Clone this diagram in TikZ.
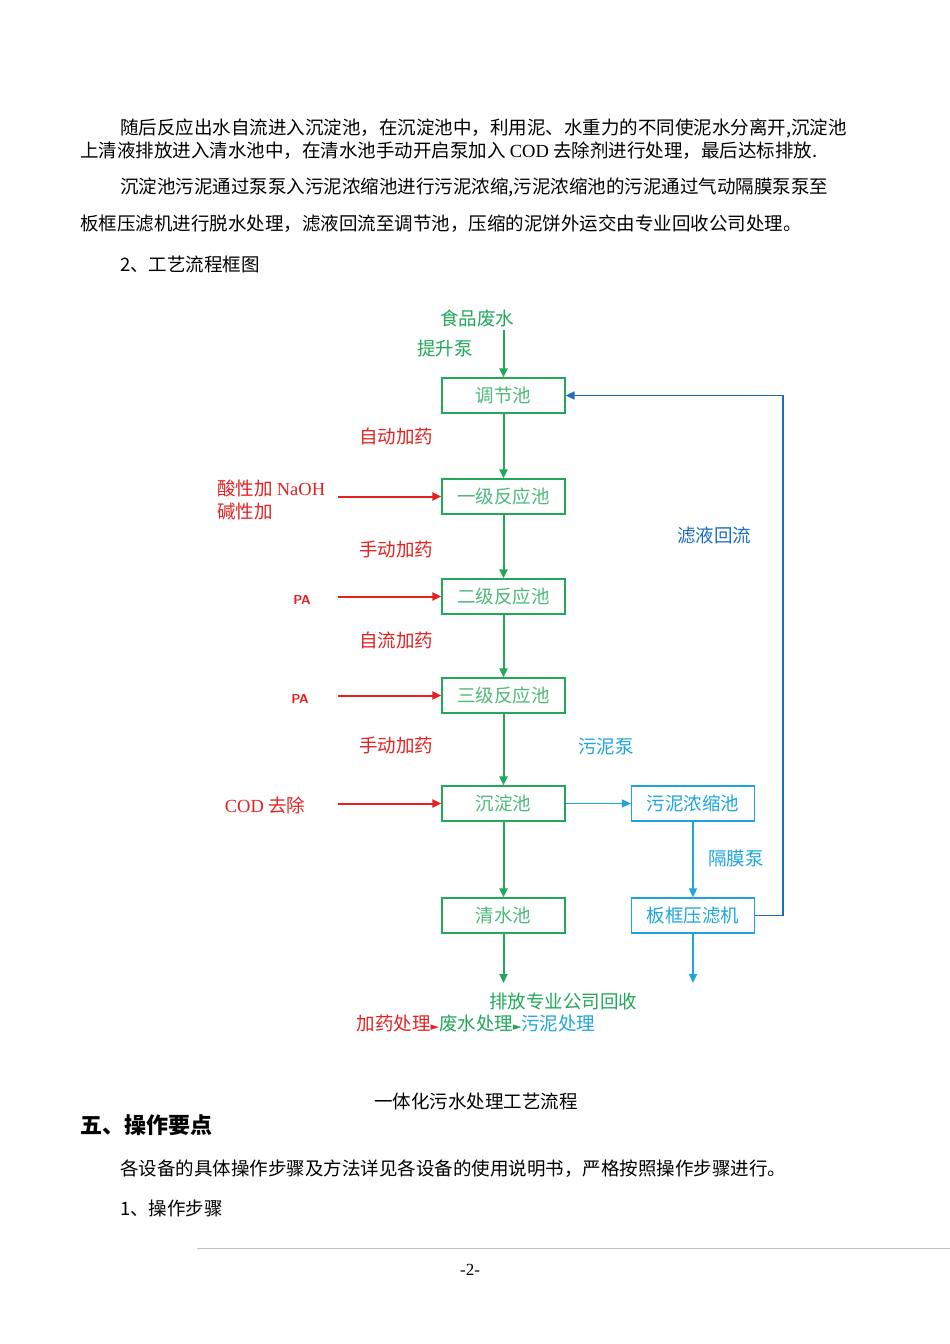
\documentclass[tikz,border=0pt]{standalone}
\usepackage{fontspec}
\setmainfont{Liberation Serif}
\newfontfamily\cjk{Noto Sans CJK SC}
\newfontfamily\dv{DejaVu Sans}
\usetikzlibrary{arrows.meta}
\definecolor{gr}{HTML}{22A85A}
\definecolor{rd}{HTML}{E52222}
\definecolor{lb}{HTML}{1EA6DC}
\definecolor{db}{HTML}{1B6EBE}
\begin{document}
\begin{tikzpicture}[x=1pt,y=-1pt,
  body/.style={font=\fontsize{18.5}{21}\selectfont\cjk,anchor=west,inner sep=0},
  lab/.style={font=\fontsize{18.5}{21}\selectfont\cjk,inner sep=0},
  box/.style={draw,line width=1.2pt,minimum width=123,minimum height=35,font=\fontsize{18.5}{21}\selectfont\cjk,inner sep=0},
  ga/.style={gr,line width=2pt,-{Triangle[length=9,width=8]}},
  ra/.style={rd,line width=2pt,-{Triangle[length=9,width=8]}},
  ba/.style={lb,line width=1.6pt,-{Triangle[length=9,width=8]}}]
\useasboundingbox[fill=white] (0,0) rectangle (950,1344);
% text
\node[body] (p1) at (120,128) {随后反应出水自流进入沉淀池，在沉淀池中，利用泥、水重力的不同使泥水分离开,沉淀池};
\node[body] (p2) at (80,151) {上清液排放进入清水池中，在清水池手动开启泵加入 {\rmfamily COD} 去除剂进行处理，最后达标排放.};
\node[body] (p3) at (120,187) {沉淀池污泥通过泵泵入污泥浓缩池进行污泥浓缩,污泥浓缩池的污泥通过气动隔膜泵泵至};
\node[body] (p4) at (80,224) {板框压滤机进行脱水处理，滤液回流至调节池，压缩的泥饼外运交由专业回收公司处理。};
\node[body] (p5) at (120,264) {2、工艺流程框图};
% boxes
\node[box,gr,text=gr!80] (b1) at (503.5,395.5) {调节池};
\node[box,gr,text=gr!80] (b2) at (503.5,496.5) {一级反应池};
\node[box,gr,text=gr!80] (b3) at (503.5,596.5) {二级反应池};
\node[box,gr,text=gr!80] (b4) at (503.5,695.5) {三级反应池};
\node[box,gr,text=gr!80] (b5) at (503.5,803.5) {沉淀池};
\node[box,gr,text=gr!80] (b6) at (503.5,915.5) {清水池};
\node[box,lb,text=lb] (s1) at (693,803.5) {污泥浓缩池};
\node[box,lb,text=lb] (s2) at (693,915.5) {板框压滤机};
% labels
\node[lab,text=gr] (t0) at (477,318) {食品废水};
\node[lab,text=gr] (t1) at (445,348) {提升泵};
\node[lab,text=rd] (l1) at (396,436) {自动加药};
\node[lab,text=rd] (l2) at (396,549) {手动加药};
\node[lab,text=rd] (l3) at (396,640) {自流加药};
\node[lab,text=rd] (l4) at (396,745) {手动加药};
\node[lab,text=rd,anchor=west] (r1) at (217,488) {酸性加 {\rmfamily NaOH}};
\node[lab,text=rd,anchor=west] (r1b) at (217,511) {碱性加};
\node[lab,text=rd,font=\fontsize{13}{14}\selectfont\bfseries\sffamily] (r2) at (302,600) {PA};
\node[lab,text=rd,font=\fontsize{13}{14}\selectfont\bfseries\sffamily] (r3) at (300,699) {PA};
\node[lab,text=rd] (r4) at (265,805) {{\rmfamily COD} 去除};
\node[lab,text=db] (f1) at (714,535) {滤液回流};
\node[lab,text=lb] (f2) at (606,747) {污泥泵};
\node[lab,text=lb] (f3) at (736,858) {隔膜泵};
\node[lab,text=gr] (f4) at (563,1001) {排放专业公司回收};
\node[lab] (lg) at (476,1023) {\textcolor{rd}{加药处理}{\color{rd}\dv\fontsize{11}{12}\selectfont ►}\textcolor{gr}{废水处理}{\color{gr}\dv\fontsize{11}{12}\selectfont ►}\textcolor{lb}{污泥处理}};
\coordinate (src) at (503.5,330);
\coordinate (ra1) at (338,496.5);
\coordinate (ra2) at (338,596.5);
\coordinate (ra3) at (338,695.5);
\coordinate (ra4) at (338,803.5);
\coordinate (o1) at (503.5,983);
\coordinate (o2) at (693,983);
% connectors
\draw[ga] (src) -- (b1);
\draw[ga] (b1) -- (b2);
\draw[ga] (b2) -- (b3);
\draw[ga] (b3) -- (b4);
\draw[ga] (b4) -- (b5);
\draw[ga] (b5) -- (b6);
\draw[ga] (b6) -- (o1);
\draw[ra] (ra1) -- (b2);
\draw[ra] (ra2) -- (b3);
\draw[ra] (ra3) -- (b4);
\draw[ra] (ra4) -- (b5);
\draw[ba] (b5) -- (s1);
\draw[ba] (s1) -- (s2);
\draw[ba] (s2) -- (o2);
\draw[db,line width=1.6pt,-{Triangle[length=9,width=8]}] (s2.east) -- ++(28,0) |- (b1.east);
% rest
\node[body,anchor=center] (cap) at (476,1101) {一体化污水处理工艺流程};
\node[body,font=\fontsize{22}{24}\selectfont\cjk\bfseries] (h5) at (80,1125) {五、操作要点};
\node[body] (p6) at (120,1169) {各设备的具体操作步骤及方法详见各设备的使用说明书，严格按照操作步骤进行。};
\node[body] (p7) at (120,1208) {1、操作步骤};
\draw[black!25,line width=0.8pt] (197,1248) -- (950,1248);
\node[lab,font=\fontsize{17}{18}\selectfont] (pg) at (470,1270) {-2-};
\end{tikzpicture}
\end{document}
